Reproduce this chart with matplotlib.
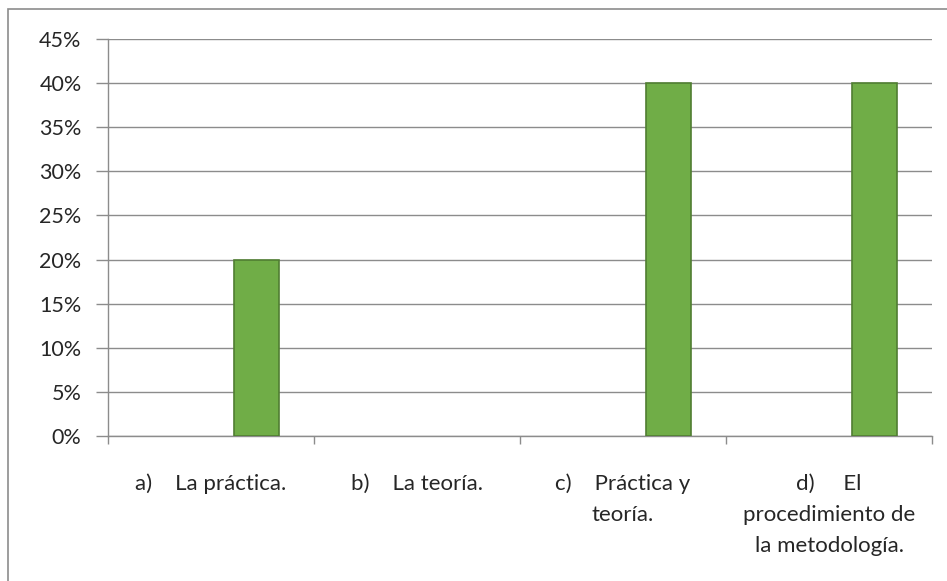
import matplotlib
matplotlib.use("Agg")
import matplotlib.pyplot as plt
from matplotlib.patches import Rectangle
from matplotlib.ticker import FuncFormatter, MultipleLocator

categories = ["a)    La práctica.", "b)    La teoría.", "c)    Práctica y\nteoría.",
              "d)     El\nprocedimiento de\nla metodología."]
values = [0.20, 0.0, 0.40, 0.40]

plt.rcParams['font.family'] = ['Lato', 'DejaVu Sans']

fig = plt.figure(figsize=(9.47, 5.81), dpi=100)
ax = fig.add_axes([108 / 947, 1 - 436 / 581, (932 - 108) / 947, (436 - 39) / 581])

# chart frame
fig.patches.append(Rectangle((8 / 947, -0.1), 1.2, 1 - 9 / 581 + 0.1,
                             transform=fig.transFigure, fill=False,
                             edgecolor='#8c8c8c', linewidth=1.2))

x = list(range(len(categories)))
ax.bar([i + 0.22 for i in x], values, width=0.22, color='#70ad47',
       edgecolor='#507e32', linewidth=[1.2 if v > 0 else 0 for v in values], zorder=3)

ax.set_xlim(-0.5, len(categories) - 0.5)
ax.set_ylim(0, 0.45)
ax.yaxis.set_major_locator(MultipleLocator(0.05))
ax.yaxis.set_major_formatter(FuncFormatter(lambda v, p: f"{v * 100:.0f}%"))
ax.grid(axis='y', color='#8c8c8c', linewidth=1.0, zorder=0)

ax.set_xticks(x)
ax.set_xticklabels(categories, linespacing=1.7, va='top')
ax.set_xticks([i - 0.5 for i in range(len(categories) + 1)], minor=True)
ax.tick_params(axis='x', which='major', length=0, pad=27, labelsize=16, colors='#262626')
ax.tick_params(axis='x', which='minor', length=6, color='#8c8c8c', width=1.0, direction='out')
ax.tick_params(axis='y', length=9, width=1.0, labelsize=15.5, pad=10)
ax.tick_params(axis='y', colors='#8c8c8c', labelcolor='#262626')

for s in ['top', 'right']:
    ax.spines[s].set_visible(False)
for s in ['left', 'bottom']:
    ax.spines[s].set_color('#8c8c8c')
    ax.spines[s].set_linewidth(1.0)

fig.savefig("out.png", dpi=100)
